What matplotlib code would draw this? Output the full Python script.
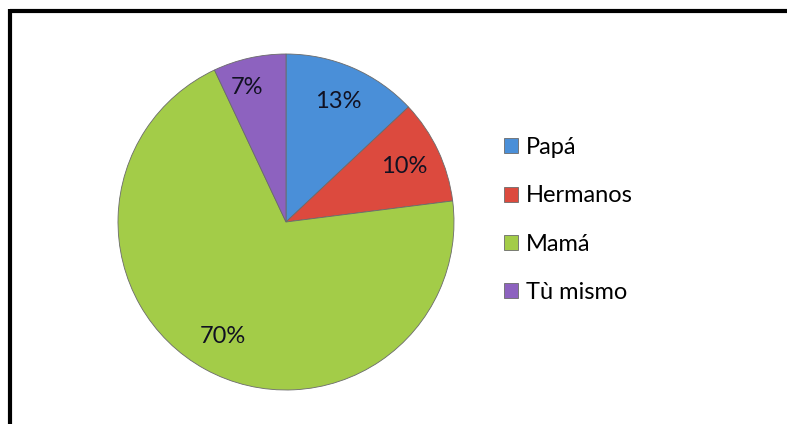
import matplotlib.pyplot as plt
from matplotlib.lines import Line2D

labels = ["Papá", "Hermanos", "Mamá", "Tù mismo"]
values = [13, 10, 70, 7]
colors = ["#4a8fd8", "#dc4a3e", "#a3cc48", "#8d62bf"]

plt.rcParams['font.family'] = ['Lato', 'DejaVu Sans']

fig = plt.figure(figsize=(7.87, 4.24), dpi=100)

# pie axes, square in pixels
ax = fig.add_axes([118/787, 34/424, 336/787, 336/424])
wedges, texts, autotexts = ax.pie(values, colors=colors, startangle=90, counterclock=False,
                                  autopct='%1.0f%%', pctdistance=0.78,
                                  wedgeprops=dict(edgecolor='#6b6b6b', linewidth=0.6),
                                  textprops=dict(fontsize=17, color='#111122'))
ax.set_xlim(-1, 1)
ax.set_ylim(-1, 1)
ax.set_aspect('equal')

# nudge the small purple label outward/left like the original
x, y = autotexts[3].get_position()
autotexts[3].set_position((x * 1.35, y * 1.05))

fig.legend(wedges, labels, loc='center left', bbox_to_anchor=(483/787, 204/424),
           frameon=False, fontsize=17, handlelength=0.6, handleheight=0.6,
           handletextpad=0.3, labelspacing=1.15)

# thick border on top and left only
fig.add_artist(Line2D([10/787, 1], [1 - 10.5/424, 1 - 10.5/424], color='black', linewidth=3,
                      transform=fig.transFigure, solid_capstyle='butt'))
fig.add_artist(Line2D([10/787, 10/787], [0, 1 - 9/424], color='black', linewidth=3,
                      transform=fig.transFigure, solid_capstyle='butt'))

fig.savefig("out.png", dpi=100)
